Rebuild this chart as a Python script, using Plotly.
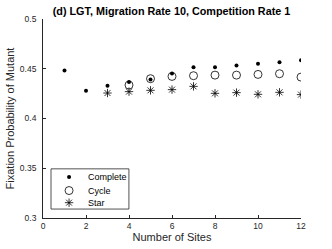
import plotly.graph_objects as go

sites_complete = [1, 2, 3, 4, 5, 6, 7, 8, 9, 10, 11, 12]
complete = [0.4483, 0.4280, 0.4330, 0.4366, 0.4393, 0.4453, 0.4516, 0.4516, 0.4533, 0.4550, 0.4566, 0.4586]
sites_cycle = [4, 5, 6, 7, 8, 9, 10, 11, 12]
cycle = [0.4336, 0.4400, 0.4423, 0.4430, 0.4436, 0.4436, 0.4443, 0.4450, 0.4416]
sites_star = [3, 4, 5, 6, 7, 8, 9, 10, 11, 12]
star = [0.4256, 0.4270, 0.4283, 0.4290, 0.4323, 0.4253, 0.4260, 0.4243, 0.4263, 0.4240]

x_ticks = [0, 2, 4, 6, 8, 10, 12]
y_ticks = [0.3, 0.35, 0.4, 0.45, 0.5]
y_tick_labels = ["0.3", "0.35", "0.4", "0.45", "0.5"]

legend_names = ["Complete", "Cycle", "Star"]

FONT = "Liberation Sans, Arial, Helvetica, sans-serif"
AX = "#262626"

styles = [
    dict(symbol="circle", size=4, color="black"),
    dict(symbol="circle-open", size=8, color="black", line=dict(width=0.8, color="black")),
    dict(symbol="asterisk-open", size=7, color="black", line=dict(width=0.8, color="black")),
]

fig = go.Figure()
for xs, ys, name, st in zip([sites_complete, sites_cycle, sites_star],
                            [complete, cycle, star], legend_names, styles):
    fig.add_trace(go.Scatter(x=xs, y=ys, mode="markers", name=name, marker=st,
                             showlegend=False))

# custom compact legend (MATLAB-like) on an overlay axis with 0..1 range
leg_x0, leg_x1, leg_y0, leg_y1 = 0.031, 0.333, 0.045, 0.247
leg_marker_x = 0.101
leg_text_x = 0.165
leg_rows = [0.206, 0.138, 0.077]

for name, st, ry in zip(legend_names, styles, leg_rows):
    fig.add_trace(go.Scatter(x=[leg_marker_x], y=[ry], mode="markers", marker=st,
                             xaxis="x2", yaxis="y2", showlegend=False, hoverinfo="skip"))
    fig.add_annotation(x=leg_text_x, y=ry, xref="x2", yref="y2", text=name,
                       showarrow=False, xanchor="left", yanchor="middle",
                       font=dict(size=9, color="black", family=FONT))

fig.add_shape(type="rect", xref="x2", yref="y2", x0=leg_x0, x1=leg_x1, y0=leg_y0, y1=leg_y1,
              line=dict(color=AX, width=0.8), fillcolor="rgba(0,0,0,0)", layer="above")

fig.update_layout(
    width=332, height=249,
    margin=dict(l=43, r=31, t=19, b=31),
    paper_bgcolor="white", plot_bgcolor="white",
    font=dict(family=FONT, size=9, color=AX),
    title=dict(text="<b>(d) LGT, Migration Rate 10, Competition Rate 1</b>",
               x=171.5 / 332, xanchor="center", y=1 - 11 / 249, yanchor="middle",
               font=dict(size=10.8, color="black")),
    showlegend=False,
    xaxis=dict(range=[0, 12], tickvals=x_ticks, ticks="inside", ticklen=3,
               tickcolor=AX, showline=True, linecolor=AX, linewidth=0.8,
               showgrid=False, zeroline=False, mirror=False, automargin=False,
               title=dict(text="Number of Sites", font=dict(size=11, color=AX), standoff=3),
               tickfont=dict(size=8.5, color=AX)),
    yaxis=dict(range=[0.3, 0.5], tickvals=y_ticks, ticktext=y_tick_labels, ticks="inside", ticklen=3,
               tickcolor=AX, showline=True, linecolor=AX, linewidth=0.8,
               showgrid=False, zeroline=False, mirror=False, ticklabelstandoff=4, automargin=False,
               title=dict(text="Fixation Probability of Mutant", font=dict(size=11, color=AX), standoff=3),
               tickfont=dict(size=8.5, color=AX)),
    xaxis2=dict(overlaying="x", range=[0, 1], visible=False, fixedrange=True),
    yaxis2=dict(overlaying="y", range=[0, 1], visible=False, fixedrange=True),
)

fig.write_html("out.html", config={"displayModeBar": False},
               post_script="document.body.style.margin='0';")
